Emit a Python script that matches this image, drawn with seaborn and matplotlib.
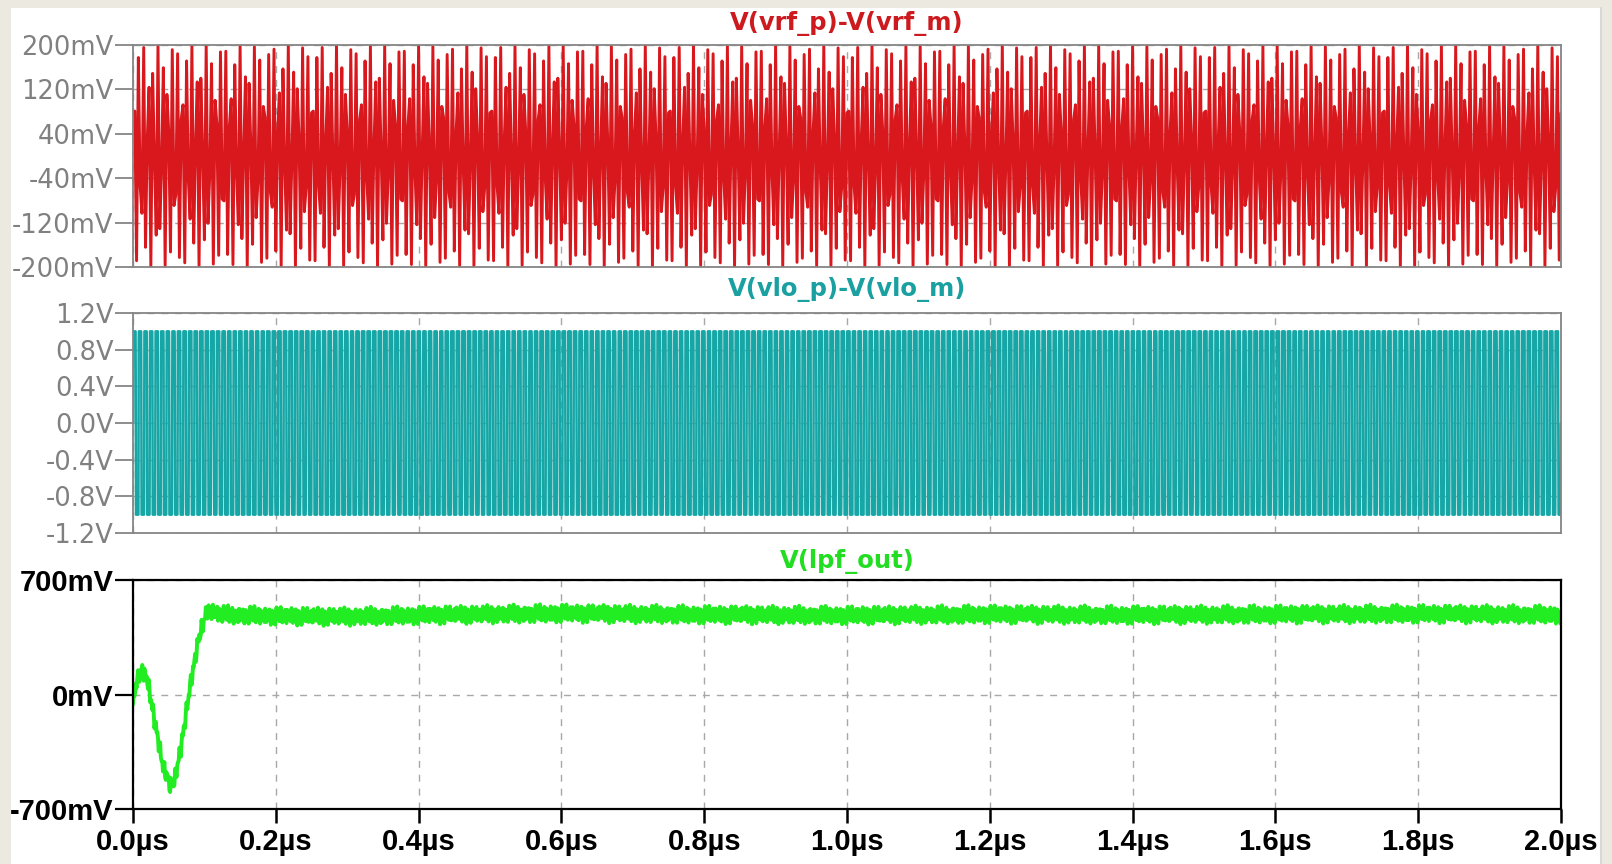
import numpy as np
import pandas as pd
import matplotlib
matplotlib.use("Agg")
import matplotlib.pyplot as plt
import seaborn as sns
from matplotlib.patches import Rectangle
from matplotlib.lines import Line2D

# ---------------- data ----------------
t_stop_us = 2.0
x_ticks_us = [0.0, 0.2, 0.4, 0.6, 0.8, 1.0, 1.2, 1.4, 1.6, 1.8, 2.0]
x_tick_labels = ["0.0µs", "0.2µs", "0.4µs", "0.6µs", "0.8µs", "1.0µs",
                 "1.2µs", "1.4µs", "1.6µs", "1.8µs", "2.0µs"]

# panel 1 : V(vrf_p)-V(vrf_m)
rf_title = "V(vrf_p)-V(vrf_m)"
rf_amp_mV = 200.0
rf_freq_MHz = 948.0
rf_step_ns = 2.5
rf_ticks = [200, 120, 40, -40, -120, -200]
rf_tick_labels = ["200mV", "120mV", "40mV", "-40mV", "-120mV", "-200mV"]

# panel 2 : V(vlo_p)-V(vlo_m)
lo_title = "V(vlo_p)-V(vlo_m)"
lo_amp_V = 1.0
lo_freq_MHz = 128.0
lo_step_ns = 0.2
lo_ticks = [1.2, 0.8, 0.4, 0.0, -0.4, -0.8, -1.2]
lo_tick_labels = ["1.2V", "0.8V", "0.4V", "0.0V", "-0.4V", "-0.8V", "-1.2V"]

# panel 3 : V(lpf_out)
lpf_title = "V(lpf_out)"
lpf_t_us = [0.0, 0.004, 0.012, 0.02, 0.03, 0.042, 0.052, 0.058, 0.068, 0.08,
            0.092, 0.104, 0.115, 0.13, 0.2, 0.3, 0.45, 0.6, 0.8, 1.0, 1.2,
            1.4, 1.6, 1.8, 2.0]
lpf_mV = [-60, 60, 150, 90, -150, -440, -560, -530, -300, 50,
          340, 520, 500, 488, 480, 476, 488, 496, 488, 484, 490,
          486, 490, 493, 488]
lpf_ripple_mV = [34, 24]
lpf_ripple_MHz = [1325.0, 2190.0]
lpf_step_ns = 1.0
lpf_ticks = [700, 0, -700]
lpf_tick_labels = ["700mV", "0mV", "-700mV"]

# ---------------- colours ----------------
rf_color = "#d8181d"
lo_color = "#17a6a6"
lpf_color = "#22ec22"
grid_color = "#a8a8a8"
gray_axis = "#858585"
bg_color = "#ece9e1"

# ---------------- waveforms ----------------
t_rf = np.arange(0, t_stop_us * 1000 + rf_step_ns / 2, rf_step_ns) / 1000.0
rf = rf_amp_mV * np.sin(2 * np.pi * rf_freq_MHz * t_rf + 0.4)
df_rf = pd.DataFrame({"t": t_rf, "v": rf})

t_lo = np.arange(0, t_stop_us * 1000 + lo_step_ns / 2, lo_step_ns) / 1000.0
lo = lo_amp_V * np.clip(6 * np.sin(2 * np.pi * lo_freq_MHz * t_lo), -1, 1)
df_lo = pd.DataFrame({"t": t_lo, "v": lo})

t_lpf = np.arange(0, t_stop_us * 1000 + lpf_step_ns / 2, lpf_step_ns) / 1000.0
lpf = np.interp(t_lpf, lpf_t_us, lpf_mV)
for a, f in zip(lpf_ripple_mV, lpf_ripple_MHz):
    lpf = lpf + a * np.sin(2 * np.pi * f * t_lpf)
df_lpf = pd.DataFrame({"t": t_lpf, "v": lpf})

# ---------------- figure ----------------
sns.set_theme(style="white")
plt.rcParams["font.family"] = ["DejaVu Sans"]
W, H = 1612, 864
fig = plt.figure(figsize=(W / 100, H / 100), dpi=100)
fig.patch.set_facecolor(bg_color)
fig.patches.append(Rectangle((11 / W, 0), (1600 - 11) / W, (H - 8) / H,
                             transform=fig.transFigure, facecolor="white",
                             edgecolor="none", zorder=-10))
fig.lines.append(Line2D([1601 / W, 1601 / W], [0, (H - 8) / H],
                        transform=fig.transFigure, color="#d8d8d8", lw=1.5,
                        zorder=-9))

x0, x1 = 133, 1561


def make_ax(top, bottom):
    return fig.add_axes([x0 / W, (H - bottom) / H, (x1 - x0) / W, (bottom - top) / H])


ax1 = make_ax(45, 267)
ax2 = make_ax(313, 533)
ax3 = make_ax(580, 809)

panels = [
    (ax1, df_rf, rf_color, 2.1, rf_ticks, (-200, 200), gray_axis),
    (ax2, df_lo, lo_color, 1.8, lo_ticks, (-1.2, 1.2), gray_axis),
    (ax3, df_lpf, lpf_color, 2.8, lpf_ticks, (-700, 700), "black"),
]

for ax, df, col, lw, yt, ylim, acol in panels:
    ax.set_facecolor("white")
    ax.set_axisbelow(True)
    sns.lineplot(data=df, x="t", y="v", ax=ax, color=col, linewidth=lw,
                 estimator=None, sort=False, zorder=3)
    ax.set_xlim(0, t_stop_us)
    ax.set_ylim(*ylim)
    ax.set_xlabel("")
    ax.set_ylabel("")
    ax.set_xticks(x_ticks_us)
    ax.set_yticks(yt)
    ax.grid(True, color=grid_color, linestyle=(0, (5, 5)), linewidth=1.0)
    for s in ax.spines.values():
        s.set_color(acol)
        s.set_linewidth(1.6 if acol == "black" else 1.3)
        s.set_zorder(4)

for ax, ytl in [(ax1, rf_tick_labels), (ax2, lo_tick_labels)]:
    ax.set_yticklabels(ytl, fontsize=18.5, color="#808080", family=["DejaVu Sans"])
    ax.tick_params(axis="y", length=13, width=1.3, color=gray_axis, pad=1, left=True)
    ax.tick_params(axis="x", length=0, labelbottom=False)

ax3.set_yticklabels(lpf_tick_labels, fontsize=21, color="black", fontweight="bold",
                    family=["Liberation Sans", "DejaVu Sans"])
ax3.tick_params(axis="y", length=13, width=1.6, color="black", pad=1, left=True)
ax3.set_xticklabels(x_tick_labels, fontsize=21, color="black", fontweight="bold",
                    family=["Liberation Sans", "DejaVu Sans"])
ax3.tick_params(axis="x", length=10, width=1.8, color="black", pad=4, bottom=True)

cx = (x0 + x1) / 2 / W
for txt, col, yc in [(rf_title, "#cc1a1f", 23), (lo_title, "#1aa0a0", 289),
                     (lpf_title, "#22dd22", 561)]:
    fig.text(cx, 1 - yc / H, txt, color=col, fontsize=17.5, fontweight="bold",
             ha="center", va="center")

fig.savefig("out.png", dpi=100, facecolor=fig.get_facecolor())
